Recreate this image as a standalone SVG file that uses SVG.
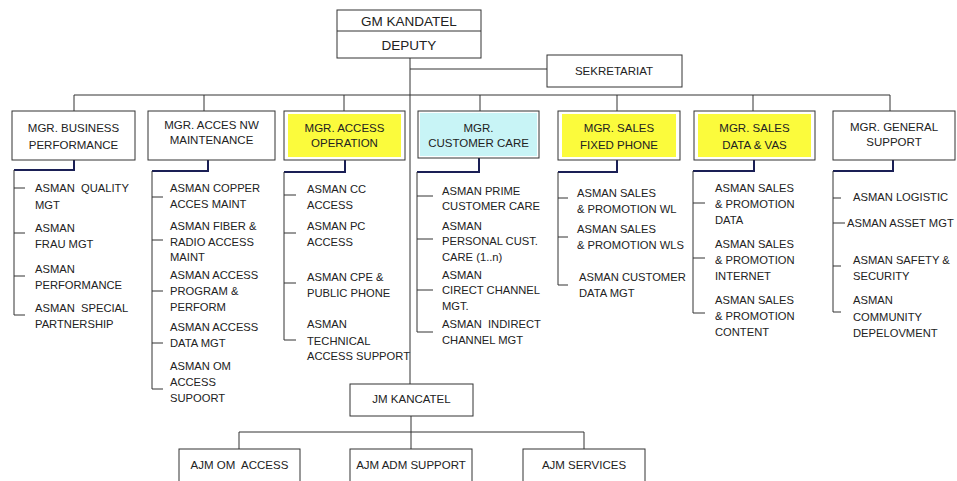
<svg xmlns="http://www.w3.org/2000/svg" width="957" height="481" viewBox="0 0 957 481">
<style>
.box{fill:#fff;stroke:#333;stroke-width:1}
.t{font-family:"Liberation Sans",Arial,sans-serif;font-size:11.2px;fill:#222;white-space:pre}
.tm{font-family:"Liberation Sans",Arial,sans-serif;font-size:11.5px;fill:#222;text-anchor:middle;white-space:pre}
.tg{font-family:"Liberation Sans",Arial,sans-serif;font-size:13.5px;fill:#222;text-anchor:middle}
.ln{fill:none;stroke:#333;stroke-width:1}
.hk{fill:none;stroke:#1a1f55;stroke-width:2}
</style>
<rect width="957" height="481" fill="#fff"/>
<g id="connectors">
<path class="ln" d="M410,58V384M410,69H547M74,95H890M74,95V111M204,95V111M344,95V111M480,95V111M617,95V111M753,95V111M890,95V111"/>
<path class="hk" d="M74,160V170H14M208,160V171H152M345,160V172H284M479,158V172H417M617,160V172H558M754,160V171H693M893,160V171H833"/>
<path class="ln" d="M14,170V315M14,188H25M14,233H25M14,276H25M14,315H25"/>
<path class="ln" d="M152,171V389M152,197H163M152,240H163M152,291H163M152,343H163M152,389H163"/>
<path class="ln" d="M284,172V340M284,195H296M284,233H296M284,283H296M284,340H296"/>
<path class="ln" d="M417,172V332M417,196H433M417,239H433M417,290H433M417,332H433"/>
<path class="ln" d="M558,172V285M558,198H568M558,237H568M558,285H568"/>
<path class="ln" d="M693,171V313M693,203H705M693,258H705M693,313H705"/>
<path class="ln" d="M833,171V312M833,198H841M833,223H845M833,266H841M833,312H841"/>
<path class="ln" d="M411,416V432M239,432H584M239,432V449M411,432V449M584,432V449"/>
</g>
<g id="gm">
<rect class="box" x="337" y="10" width="144" height="48"/>
<line class="ln" x1="337" y1="31" x2="481" y2="31"/>
<text class="tg" x="409" y="26">GM KANDATEL</text>
<text class="tg" x="409" y="50">DEPUTY</text>
</g>
<g id="sekretariat">
<rect class="box" x="547" y="55" width="135" height="32"/>
<text class="tm" x="614" y="75">SEKRETARIAT</text>
</g>
<g id="mgr-business">
<rect class="box" x="12" y="111" width="123" height="49"/>
<text class="tm" x="73.5" y="132">MGR. BUSINESS</text>
<text class="tm" x="73.5" y="149">PERFORMANCE</text>
</g>
<g id="mgr-accesnw">
<rect class="box" x="148" y="111" width="127" height="49"/>
<text class="tm" x="211.5" y="129">MGR. ACCES NW</text>
<text class="tm" x="211.5" y="144">MAINTENANCE</text>
</g>
<g id="mgr-accessop">
<rect class="box" x="284" y="111" width="121" height="49"/>
<rect x="288" y="114" width="113" height="43" fill="#fbfb3c"/>
<text class="tm" x="344.5" y="132">MGR. ACCESS</text>
<text class="tm" x="344.5" y="147">OPERATION</text>
</g>
<g id="mgr-customercare">
<rect class="box" x="418" y="111" width="121" height="47"/>
<rect x="420" y="113" width="117" height="43" fill="#c8f4f6"/>
<text class="tm" x="478.5" y="132">MGR.</text>
<text class="tm" x="478.5" y="147">CUSTOMER CARE</text>
</g>
<g id="mgr-salesfixed">
<rect class="box" x="558" y="111" width="122" height="49"/>
<rect x="562" y="114" width="114" height="43" fill="#fbfb3c"/>
<text class="tm" x="619" y="132">MGR. SALES</text>
<text class="tm" x="619" y="149">FIXED PHONE</text>
</g>
<g id="mgr-salesdata">
<rect class="box" x="694" y="111" width="121" height="49"/>
<rect x="698" y="114" width="113" height="43" fill="#fbfb3c"/>
<text class="tm" x="754.5" y="132">MGR. SALES</text>
<text class="tm" x="754.5" y="149">DATA &amp; VAS</text>
</g>
<g id="mgr-general">
<rect class="box" x="833" y="111" width="122" height="49"/>
<text class="tm" x="894" y="131">MGR. GENERAL</text>
<text class="tm" x="894" y="146">SUPPORT</text>
</g>
<g id="col1">
<text class="t" x="35" y="192">ASMAN  QUALITY</text>
<text class="t" x="35" y="209">MGT</text>
<text class="t" x="35" y="232">ASMAN</text>
<text class="t" x="35" y="248">FRAU MGT</text>
<text class="t" x="35" y="273">ASMAN</text>
<text class="t" x="35" y="289">PERFORMANCE</text>
<text class="t" x="35" y="312">ASMAN  SPECIAL</text>
<text class="t" x="35" y="328">PARTNERSHIP</text>
</g>
<g id="col2">
<text class="t" x="170" y="192">ASMAN COPPER</text>
<text class="t" x="170" y="208">ACCES MAINT</text>
<text class="t" x="170" y="230">ASMAN FIBER &amp;</text>
<text class="t" x="170" y="246">RADIO ACCESS</text>
<text class="t" x="170" y="261">MAINT</text>
<text class="t" x="170" y="279">ASMAN ACCESS</text>
<text class="t" x="170" y="295">PROGRAM &amp;</text>
<text class="t" x="170" y="311">PERFORM</text>
<text class="t" x="170" y="331">ASMAN ACCESS</text>
<text class="t" x="170" y="347">DATA MGT</text>
<text class="t" x="170" y="370">ASMAN OM</text>
<text class="t" x="170" y="386">ACCESS</text>
<text class="t" x="170" y="402">SUPOORT</text>
</g>
<g id="col3">
<text class="t" x="307" y="193">ASMAN CC</text>
<text class="t" x="307" y="209">ACCESS</text>
<text class="t" x="307" y="230">ASMAN PC</text>
<text class="t" x="307" y="246">ACCESS</text>
<text class="t" x="307" y="281">ASMAN CPE &amp;</text>
<text class="t" x="307" y="297">PUBLIC PHONE</text>
<text class="t" x="307" y="328">ASMAN</text>
<text class="t" x="307" y="345">TECHNICAL</text>
<text class="t" x="307" y="360">ACCESS SUPPORT</text>
</g>
<g id="col4">
<text class="t" x="442" y="195">ASMAN PRIME</text>
<text class="t" x="442" y="210">CUSTOMER CARE</text>
<text class="t" x="442" y="230">ASMAN</text>
<text class="t" x="442" y="245">PERSONAL CUST.</text>
<text class="t" x="442" y="261">CARE (1..n)</text>
<text class="t" x="442" y="279">ASMAN</text>
<text class="t" x="442" y="294">CIRECT CHANNEL</text>
<text class="t" x="442" y="310">MGT.</text>
<text class="t" x="442" y="328">ASMAN  INDIRECT</text>
<text class="t" x="442" y="344">CHANNEL MGT</text>
</g>
<g id="col5">
<text class="t" x="577" y="197">ASMAN SALES</text>
<text class="t" x="577" y="213">&amp; PROMOTION WL</text>
<text class="t" x="577" y="233">ASMAN SALES</text>
<text class="t" x="577" y="249">&amp; PROMOTION WLS</text>
<text class="t" x="579" y="281">ASMAN CUSTOMER</text>
<text class="t" x="579" y="297">DATA MGT</text>
</g>
<g id="col6">
<text class="t" x="715" y="192">ASMAN SALES</text>
<text class="t" x="715" y="208">&amp; PROMOTION</text>
<text class="t" x="715" y="224">DATA</text>
<text class="t" x="715" y="248">ASMAN SALES</text>
<text class="t" x="715" y="264">&amp; PROMOTION</text>
<text class="t" x="715" y="280">INTERNET</text>
<text class="t" x="715" y="304">ASMAN SALES</text>
<text class="t" x="715" y="320">&amp; PROMOTION</text>
<text class="t" x="715" y="336">CONTENT</text>
</g>
<g id="col7">
<text class="t" x="853" y="201">ASMAN LOGISTIC</text>
<text class="t" x="847" y="227">ASMAN ASSET MGT</text>
<text class="t" x="853" y="264">ASMAN SAFETY &amp;</text>
<text class="t" x="853" y="280">SECURITY</text>
<text class="t" x="853" y="304">ASMAN</text>
<text class="t" x="853" y="321">COMMUNITY</text>
<text class="t" x="853" y="337">DEPELOVMENT</text>
</g>
<g id="jm">
<rect class="box" x="350" y="384" width="123" height="32"/>
<text class="tm" x="411.5" y="403">JM KANCATEL</text>
</g>
<g id="ajm-om">
<rect class="box" x="179" y="449" width="121" height="40"/>
<text class="tm" x="239.5" y="469">AJM OM  ACCESS</text>
</g>
<g id="ajm-adm">
<rect class="box" x="350" y="449" width="122" height="40"/>
<text class="tm" x="411" y="469">AJM ADM SUPPORT</text>
</g>
<g id="ajm-services">
<rect class="box" x="523" y="449" width="122" height="40"/>
<text class="tm" x="584" y="469">AJM SERVICES</text>
</g>
</svg>
